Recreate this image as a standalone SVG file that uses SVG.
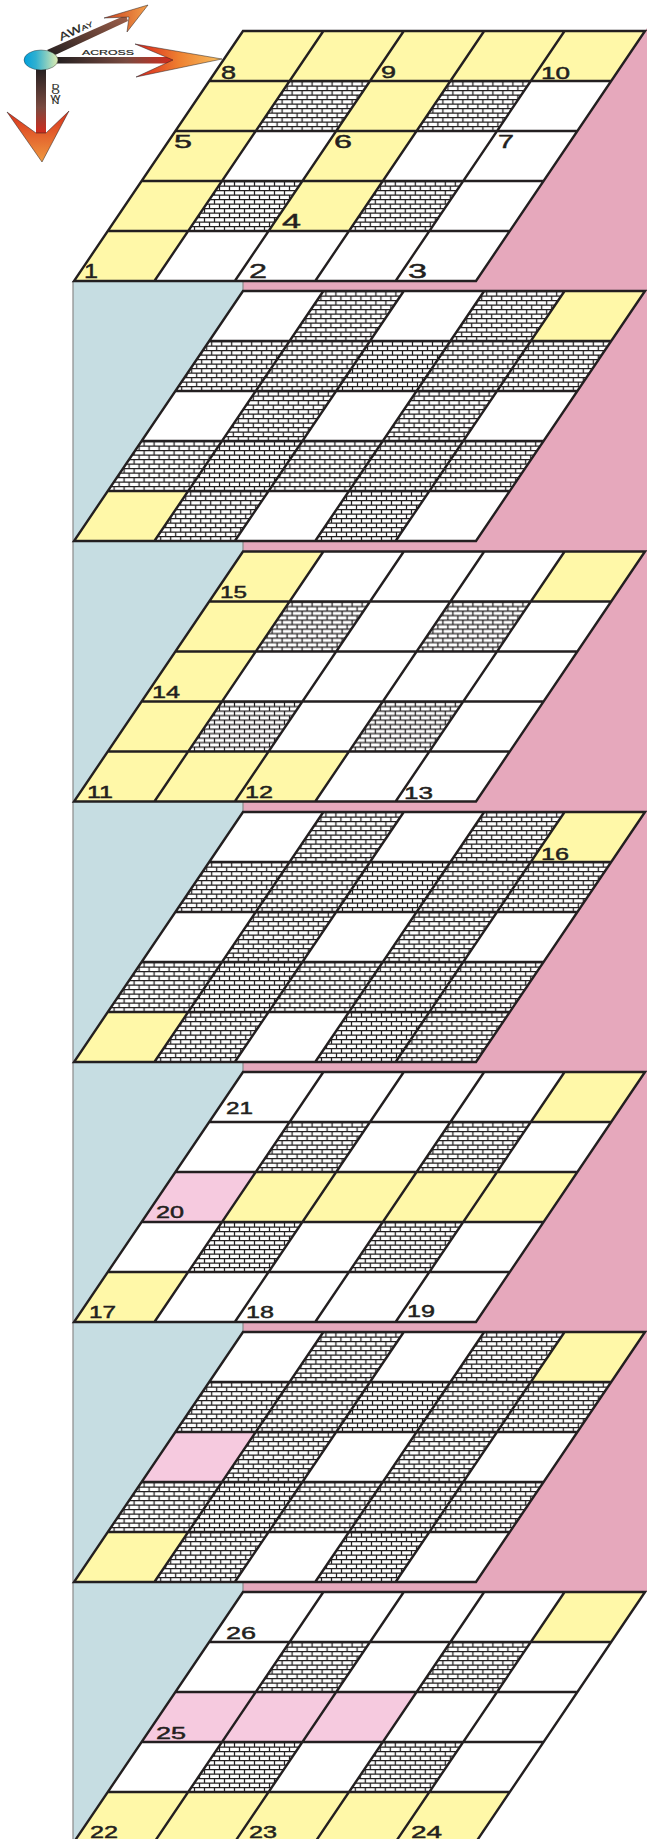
<svg xmlns="http://www.w3.org/2000/svg" width="647" height="1839" viewBox="0 0 647 1839">
<style>
.y{fill:#fff8a8}.b{fill:url(#brick)}.p{fill:#f6cadf}
.grid{fill:none;stroke:#231f20;stroke-width:2.4;stroke-linejoin:miter}
.n{font-family:"Liberation Sans",Arial,sans-serif;font-size:16.5px;fill:#231f20;stroke:#231f20;stroke-width:.45}
.l{font-size:18.5px}.xl{font-size:21px}
.lg{font-family:"Liberation Sans",Arial,sans-serif;fill:#231f20;stroke:#231f20;stroke-width:.2}
.head{stroke:#231f20;stroke-width:.5}
</style>
<defs>
<pattern id="brick" patternUnits="userSpaceOnUse" width="20" height="9">
<rect width="20" height="9" fill="#fff"/>
<path d="M0 .5H20M0 5H20M2.5 0V5M12.5 0V5M7.5 5V9M17.5 5V9" fill="none" stroke="#231f20" stroke-width="1.25"/>
</pattern>
<path id="c" d="M0 0H80.4L46.6 50H-33.8Z"/>
<path id="base" fill="#fff" d="M243 0H645L476 250H74Z"/>
<path id="lines" class="grid" d="M243 0H645L476 250H74ZM209.2 50H611.2M175.4 100H577.4M141.6 150H543.6M107.8 200H509.8M323.4 0L154.4 250M403.8 0L234.8 250M484.2 0L315.2 250M564.6 0L395.6 250"/>
<linearGradient id="gShaftH" x1="0" x2="1" y1="0" y2="0"><stop offset="0" stop-color="#231f20"/><stop offset=".6" stop-color="#7a4a40"/><stop offset="1" stop-color="#d42a1c"/></linearGradient>
<linearGradient id="gShaftV" x1="0" x2="0" y1="0" y2="1"><stop offset="0" stop-color="#231f20"/><stop offset=".6" stop-color="#7a4a40"/><stop offset="1" stop-color="#d42a1c"/></linearGradient>
<linearGradient id="gAway" x1="0" x2="1" y1="1" y2="0"><stop offset="0" stop-color="#231f20"/><stop offset="1" stop-color="#a0604a"/></linearGradient>
<linearGradient id="gHeadH" x1="0" x2="1" y1="0" y2="0"><stop offset="0" stop-color="#d8201c"/><stop offset=".5" stop-color="#ee7f30"/><stop offset="1" stop-color="#f8c060"/></linearGradient>
<linearGradient id="gHeadV" x1="0" x2="0" y1="0" y2="1"><stop offset="0" stop-color="#d8301c"/><stop offset="1" stop-color="#f09a40"/></linearGradient>
<linearGradient id="gHeadA" x1="0" x2="1" y1="0" y2="0"><stop offset="0" stop-color="#c8401f"/><stop offset="1" stop-color="#f5a04a"/></linearGradient>
<linearGradient id="gOrb" x1="0" x2="1" y1="0" y2="0"><stop offset="0" stop-color="#00a0dc"/><stop offset=".35" stop-color="#30b0d0"/><stop offset="1" stop-color="#e0ecb0"/></linearGradient>
</defs>
<g id="sides">
<path fill="#e6a8bc" d="M645 31L647 28V1591.5H243V281H476Z"/>
<path fill="#c6dde2" d="M73 281H243V291L74 541H243V551.5L74 801.5H243V812L74 1062H243V1072L74 1322H243V1332L74 1582H243V1592L74 1842H73Z"/>
<path fill="none" stroke="#8a8a8a" stroke-width="1.2" d="M73 281V1839M243 281V291M243 541V551.5M243 801.5V812M243 1062V1072M243 1322V1332M243 1582V1592"/>
</g>
<g id="layer1" transform="translate(0,31)">
<use href="#base"/>
<use href="#c" x="243" y="0" class="y"/><use href="#c" x="323.4" y="0" class="y"/><use href="#c" x="403.8" y="0" class="y"/><use href="#c" x="484.2" y="0" class="y"/><use href="#c" x="564.6" y="0" class="y"/>
<use href="#c" x="209.2" y="50" class="y"/><use href="#c" x="289.6" y="50" class="b"/><use href="#c" x="370" y="50" class="y"/><use href="#c" x="450.4" y="50" class="b"/>
<use href="#c" x="175.4" y="100" class="y"/><use href="#c" x="336.2" y="100" class="y"/>
<use href="#c" x="141.6" y="150" class="y"/><use href="#c" x="222" y="150" class="b"/><use href="#c" x="302.4" y="150" class="y"/><use href="#c" x="382.8" y="150" class="b"/>
<use href="#c" x="107.8" y="200" class="y"/>
<use href="#lines"/>
</g>
<g id="layer2" transform="translate(0,291)">
<use href="#base"/>
<use href="#c" x="323.4" y="0" class="b"/><use href="#c" x="484.2" y="0" class="b"/><use href="#c" x="564.6" y="0" class="y"/>
<use href="#c" x="209.2" y="50" class="b"/><use href="#c" x="289.6" y="50" class="b"/><use href="#c" x="370" y="50" class="b"/><use href="#c" x="450.4" y="50" class="b"/><use href="#c" x="530.8" y="50" class="b"/>
<use href="#c" x="255.8" y="100" class="b"/><use href="#c" x="416.6" y="100" class="b"/>
<use href="#c" x="141.6" y="150" class="b"/><use href="#c" x="222" y="150" class="b"/><use href="#c" x="302.4" y="150" class="b"/><use href="#c" x="382.8" y="150" class="b"/><use href="#c" x="463.2" y="150" class="b"/>
<use href="#c" x="107.8" y="200" class="y"/><use href="#c" x="188.2" y="200" class="b"/><use href="#c" x="349" y="200" class="b"/>
<use href="#lines"/>
</g>
<g id="layer3" transform="translate(0,551.5)">
<use href="#base"/>
<use href="#c" x="243" y="0" class="y"/><use href="#c" x="564.6" y="0" class="y"/>
<use href="#c" x="209.2" y="50" class="y"/><use href="#c" x="289.6" y="50" class="b"/><use href="#c" x="450.4" y="50" class="b"/>
<use href="#c" x="175.4" y="100" class="y"/>
<use href="#c" x="141.6" y="150" class="y"/><use href="#c" x="222" y="150" class="b"/><use href="#c" x="382.8" y="150" class="b"/>
<use href="#c" x="107.8" y="200" class="y"/><use href="#c" x="188.2" y="200" class="y"/><use href="#c" x="268.6" y="200" class="y"/>
<use href="#lines"/>
</g>
<g id="layer4" transform="translate(0,812)">
<use href="#base"/>
<use href="#c" x="323.4" y="0" class="b"/><use href="#c" x="484.2" y="0" class="b"/><use href="#c" x="564.6" y="0" class="y"/>
<use href="#c" x="209.2" y="50" class="b"/><use href="#c" x="289.6" y="50" class="b"/><use href="#c" x="370" y="50" class="b"/><use href="#c" x="450.4" y="50" class="b"/><use href="#c" x="530.8" y="50" class="b"/>
<use href="#c" x="255.8" y="100" class="b"/><use href="#c" x="416.6" y="100" class="b"/>
<use href="#c" x="141.6" y="150" class="b"/><use href="#c" x="222" y="150" class="b"/><use href="#c" x="302.4" y="150" class="b"/><use href="#c" x="382.8" y="150" class="b"/><use href="#c" x="463.2" y="150" class="b"/>
<use href="#c" x="107.8" y="200" class="y"/><use href="#c" x="188.2" y="200" class="b"/><use href="#c" x="349" y="200" class="b"/><use href="#c" x="429.4" y="200" class="b"/>
<use href="#lines"/>
</g>
<g id="layer5" transform="translate(0,1072)">
<use href="#base"/>
<use href="#c" x="564.6" y="0" class="y"/>
<use href="#c" x="289.6" y="50" class="b"/><use href="#c" x="450.4" y="50" class="b"/>
<use href="#c" x="175.4" y="100" class="p"/><use href="#c" x="255.8" y="100" class="y"/><use href="#c" x="336.2" y="100" class="y"/><use href="#c" x="416.6" y="100" class="y"/><use href="#c" x="497" y="100" class="y"/>
<use href="#c" x="222" y="150" class="b"/><use href="#c" x="382.8" y="150" class="b"/>
<use href="#c" x="107.8" y="200" class="y"/>
<use href="#lines"/>
</g>
<g id="layer6" transform="translate(0,1332)">
<use href="#base"/>
<use href="#c" x="323.4" y="0" class="b"/><use href="#c" x="484.2" y="0" class="b"/><use href="#c" x="564.6" y="0" class="y"/>
<use href="#c" x="209.2" y="50" class="b"/><use href="#c" x="289.6" y="50" class="b"/><use href="#c" x="370" y="50" class="b"/><use href="#c" x="450.4" y="50" class="b"/><use href="#c" x="530.8" y="50" class="b"/>
<use href="#c" x="175.4" y="100" class="p"/><use href="#c" x="255.8" y="100" class="b"/><use href="#c" x="416.6" y="100" class="b"/>
<use href="#c" x="141.6" y="150" class="b"/><use href="#c" x="222" y="150" class="b"/><use href="#c" x="302.4" y="150" class="b"/><use href="#c" x="382.8" y="150" class="b"/><use href="#c" x="463.2" y="150" class="b"/>
<use href="#c" x="107.8" y="200" class="y"/><use href="#c" x="188.2" y="200" class="b"/><use href="#c" x="349" y="200" class="b"/>
<use href="#lines"/>
</g>
<g id="layer7" transform="translate(0,1592)">
<use href="#base"/>
<use href="#c" x="564.6" y="0" class="y"/>
<use href="#c" x="289.6" y="50" class="b"/><use href="#c" x="450.4" y="50" class="b"/>
<use href="#c" x="175.4" y="100" class="p"/><use href="#c" x="255.8" y="100" class="p"/><use href="#c" x="336.2" y="100" class="p"/>
<use href="#c" x="222" y="150" class="b"/><use href="#c" x="382.8" y="150" class="b"/>
<use href="#c" x="107.8" y="200" class="y"/><use href="#c" x="188.2" y="200" class="y"/><use href="#c" x="268.6" y="200" class="y"/><use href="#c" x="349" y="200" class="y"/><use href="#c" x="429.4" y="200" class="y"/>
<use href="#lines"/>
</g>
<g id="labels">
<text class="n xl" x="84" y="278" textLength="14" lengthAdjust="spacingAndGlyphs">1</text>
<text class="n xl" x="249" y="278" textLength="18" lengthAdjust="spacingAndGlyphs">2</text>
<text class="n xl" x="408" y="278" textLength="19" lengthAdjust="spacingAndGlyphs">3</text>
<text class="n xl" x="282" y="228" textLength="19" lengthAdjust="spacingAndGlyphs">4</text>
<text class="n l" x="174" y="148" textLength="18" lengthAdjust="spacingAndGlyphs">5</text>
<text class="n l" x="334" y="148" textLength="18" lengthAdjust="spacingAndGlyphs">6</text>
<text class="n l" x="498" y="148" textLength="16" lengthAdjust="spacingAndGlyphs">7</text>
<text class="n l" x="221" y="79" textLength="15" lengthAdjust="spacingAndGlyphs">8</text>
<text class="n" x="381" y="78" textLength="15" lengthAdjust="spacingAndGlyphs">9</text>
<text class="n" x="541" y="79" textLength="29" lengthAdjust="spacingAndGlyphs">10</text>
<text class="n" x="87" y="798" textLength="26" lengthAdjust="spacingAndGlyphs">11</text>
<text class="n" x="245" y="798" textLength="28" lengthAdjust="spacingAndGlyphs">12</text>
<text class="n" x="404" y="798.5" textLength="29" lengthAdjust="spacingAndGlyphs">13</text>
<text class="n" x="152" y="698" textLength="28" lengthAdjust="spacingAndGlyphs">14</text>
<text class="n" x="220" y="598" textLength="27" lengthAdjust="spacingAndGlyphs">15</text>
<text class="n" x="541" y="860" textLength="28" lengthAdjust="spacingAndGlyphs">16</text>
<text class="n" x="89" y="1318" textLength="27" lengthAdjust="spacingAndGlyphs">17</text>
<text class="n" x="246" y="1318" textLength="28" lengthAdjust="spacingAndGlyphs">18</text>
<text class="n" x="407" y="1317" textLength="28" lengthAdjust="spacingAndGlyphs">19</text>
<text class="n" x="156" y="1217.5" textLength="28" lengthAdjust="spacingAndGlyphs">20</text>
<text class="n" x="226" y="1114" textLength="27" lengthAdjust="spacingAndGlyphs">21</text>
<text class="n" x="90" y="1837.5" textLength="28" lengthAdjust="spacingAndGlyphs">22</text>
<text class="n" x="249" y="1837.5" textLength="28" lengthAdjust="spacingAndGlyphs">23</text>
<text class="n" x="411" y="1837.5" textLength="31" lengthAdjust="spacingAndGlyphs">24</text>
<text class="n" x="156" y="1739" textLength="30" lengthAdjust="spacingAndGlyphs">25</text>
<text class="n" x="226" y="1638.5" textLength="30" lengthAdjust="spacingAndGlyphs">26</text>
</g>
<g id="legend">
<path fill="url(#gAway)" d="M47 50L53 56L128 21L126 15Z"/>
<path fill="url(#gHeadA)" class="head" d="M104 18L148 5L127 32L129 17Z"/>
<rect x="56" y="57" width="118" height="6.5" fill="url(#gShaftH)"/>
<path fill="url(#gHeadH)" class="head" d="M135 44L222 59L136 77L173 60Z"/>
<rect x="36" y="68" width="10" height="66" fill="url(#gShaftV)"/>
<path fill="url(#gHeadV)" class="head" d="M7 112L36 133H46L69 111L42 162Z"/>
<ellipse cx="41" cy="60" rx="17" ry="10" fill="url(#gOrb)" stroke="#231f20" stroke-width=".4"/>
<text class="lg" x="82" y="55" font-size="7.5" textLength="52" lengthAdjust="spacingAndGlyphs">ACROSS</text>
<text class="lg" transform="translate(61,41) rotate(-25)" font-size="11" textLength="36" lengthAdjust="spacingAndGlyphs">AW<tspan font-size="7">AY</tspan></text>
<text class="lg" transform="translate(55.5,0) scale(1.1,.8)" font-size="9.5" text-anchor="middle" x="0 0 0 0" y="111 118 124.5 130.5">DOWN</text>
</g>
</svg>
